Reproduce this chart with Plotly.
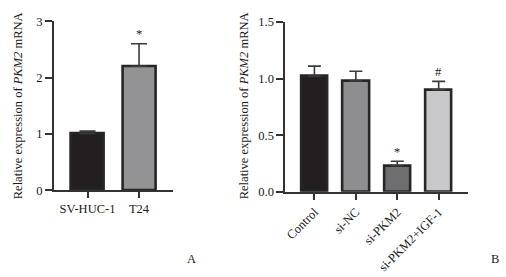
import plotly.graph_objects as go

# Panel A data
cats_a = ["SV-HUC-1", "T24"]
vals_a = [1.01, 2.20]
errs_a = [0.04, 0.40]
colors_a = ["#231f20", "#939395"]
marks_a = ["", "*"]

# Panel B data
cats_b = ["Control", "si-NC", "si-PKM2", "si-PKM2+IGF-1"]
vals_b = [1.02, 0.98, 0.23, 0.90]
errs_b = [0.09, 0.085, 0.04, 0.075]
colors_b = ["#231f20", "#8e8e90", "#6e6e70", "#c8c8ca"]
marks_b = ["", "", "*", "#"]

yticks_a = [0, 1, 2, 3]
yticks_b = [0.0, 0.5, 1.0, 1.5]

FONT = "Liberation Serif"
TXT = "#1a1a1a"
AX = "#333333"
FS = 12.5

W, H = 506, 277


def px(x):
    return x / W


def py(y):
    return 1 - y / H


fig = go.Figure()

fig.add_trace(go.Bar(
    x=cats_a, y=vals_a, width=0.64,
    marker=dict(color=colors_a, line=dict(color="#262626", width=2.6)),
    error_y=dict(type="data", symmetric=False, array=errs_a, arrayminus=[0] * len(errs_a),
                 color="#3a3a3a", thickness=1.6, width=8),
    xaxis="x", yaxis="y", showlegend=False,
))
fig.add_trace(go.Bar(
    x=cats_b, y=vals_b, width=0.64,
    marker=dict(color=colors_b, line=dict(color="#262626", width=2.6)),
    error_y=dict(type="data", symmetric=False, array=errs_b, arrayminus=[0] * len(errs_b),
                 color="#3a3a3a", thickness=1.6, width=6.5),
    xaxis="x2", yaxis="y2", showlegend=False,
))

axis_common = dict(showline=True, linecolor=AX, linewidth=2, ticks="outside",
                   tickcolor=AX, tickwidth=2, showgrid=False, zeroline=False,
                   tickfont=dict(family=FONT, size=FS, color=TXT))

fig.update_layout(
    width=W, height=H,
    margin=dict(l=0, r=0, t=0, b=0),
    paper_bgcolor="white", plot_bgcolor="white",
    bargap=0,
    xaxis=dict(domain=[px(53), px(172)], anchor="y", type="category",
               range=[-0.653, 1.653], ticklen=6, **axis_common),
    yaxis=dict(domain=[py(193), py(15)], anchor="x", range=[0, 3],
               tickvals=yticks_a, ticklen=7, **axis_common),
    xaxis2=dict(domain=[px(285), px(468)], anchor="y2", type="category",
                range=[-0.70, 3.71], ticklen=6, tickangle=-45, **axis_common),
    yaxis2=dict(domain=[py(194.7), py(15.7)], anchor="x2", range=[0, 1.5],
                tickvals=yticks_b, tickformat=".1f", ticklen=7, **axis_common),
)

ann = []
for c, v, e, m in zip(cats_a, vals_a, errs_a, marks_a):
    if m:
        ann.append(dict(x=c, y=v + e, xref="x", yref="y", text=m, showarrow=False,
                        yanchor="bottom", yshift=1,
                        font=dict(family=FONT, size=FS, color=TXT)))
for c, v, e, m in zip(cats_b, vals_b, errs_b, marks_b):
    if m:
        ann.append(dict(x=c, y=v + e, xref="x2", yref="y2", text=m, showarrow=False,
                        yanchor="bottom", yshift=0,
                        font=dict(family=FONT, size=FS, color=TXT)))

title = "Relative expression of <i>PKM2</i> mRNA"
ann.append(dict(x=px(17), y=py(103.5), xref="paper", yref="paper", text=title,
                textangle=-90, showarrow=False, xanchor="center", yanchor="middle",
                font=dict(family=FONT, size=FS, color=TXT)))
ann.append(dict(x=px(243), y=py(104), xref="paper", yref="paper", text=title,
                textangle=-90, showarrow=False, xanchor="center", yanchor="middle",
                font=dict(family=FONT, size=FS, color=TXT)))
ann.append(dict(x=px(191), y=py(265), xref="paper", yref="paper", text="A",
                showarrow=False, xanchor="center", yanchor="middle",
                font=dict(family=FONT, size=FS, color=TXT)))
ann.append(dict(x=px(495), y=py(265), xref="paper", yref="paper", text="B",
                showarrow=False, xanchor="center", yanchor="middle",
                font=dict(family=FONT, size=FS, color=TXT)))
fig.update_layout(annotations=ann)

fig.write_html(
    "out.html",
    config={"displayModeBar": False},
    post_script="document.body.style.margin='0';document.body.style.overflow='hidden';",
)
